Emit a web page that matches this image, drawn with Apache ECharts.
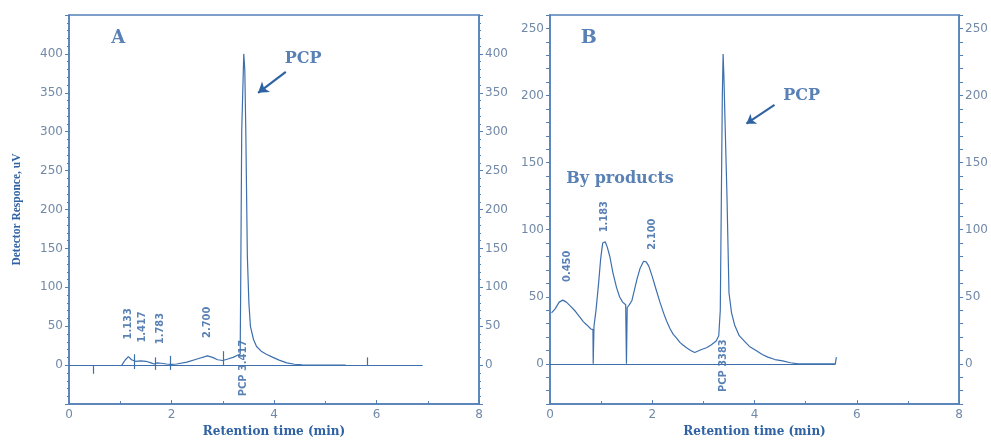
<!DOCTYPE html>
<html style="height: 100%">
    <head>
        <meta charset="utf-8">
    </head>
    <body style="height: 100%; margin: 0; background: #fff">
        <div id="container" style="width: 991px; height: 443px"></div>

        <script type="text/javascript" src="https://cdn.jsdelivr.net/npm/echarts@6/dist/echarts.min.js"></script>
        <script type="text/javascript">
// ---- chromatogram A (PCP standard) ----
var timeA = [1.03, 1.1, 1.16, 1.22, 1.3, 1.4, 1.5, 1.6, 1.66, 1.72, 1.8, 1.9, 2.0, 2.1, 2.3, 2.5, 2.7, 2.8, 2.9, 3.0,
    3.1, 3.2, 3.3, 3.34, 3.35, 3.37, 3.41, 3.43, 3.45, 3.48, 3.51, 3.54, 3.6, 3.66, 3.75, 3.85, 3.98, 4.1, 4.25, 4.4,
    4.55, 4.8, 5.4];
var respA = [0, 7, 11, 7, 5, 5.5, 5, 3, 1.5, 3, 2.5, 1.5, 1, 1.5, 4, 8, 12, 10, 7, 6,
    8, 10, 13, 14, 100, 300, 400, 380, 300, 140, 80, 50, 33, 24, 18, 14, 10, 6.5, 3, 1.2,
    0.4, 0, 0];
var peakNamesA = ['1.133', '1.417', '1.783', '2.700', 'PCP 3.417'];
var peakTimeA = [1.15, 1.42, 1.78, 2.69, 3.40];
var peakBaseA = [33, 29, 27, 35, -40];
var eventTimeA = [0.47, 1.27, 1.68, 1.97, 3.0, 5.82];
var eventLowA = [-11, -5, -6, -6, 0, 0];
var eventHighA = [0, 14, 10, 12, 18, 10];

// ---- chromatogram B (after treatment) ----
var timeB = [0.03, 0.1, 0.18, 0.25, 0.32, 0.4, 0.5, 0.58, 0.65, 0.72, 0.8, 0.84, 0.845, 0.855, 0.86, 0.9, 0.95, 0.99,
    1.03, 1.08, 1.12, 1.17, 1.23, 1.3, 1.36, 1.42, 1.48, 1.495, 1.505, 1.51, 1.55, 1.6, 1.65, 1.7, 1.76, 1.83, 1.88,
    1.93, 2.0, 2.07, 2.15, 2.22, 2.28, 2.35, 2.41, 2.48, 2.54, 2.6, 2.67, 2.75, 2.83, 2.95, 3.06, 3.15, 3.25, 3.3,
    3.33, 3.35, 3.37, 3.385, 3.4, 3.43, 3.46, 3.5, 3.55, 3.61, 3.7, 3.8, 3.9, 4.03, 4.15, 4.26, 4.4, 4.55, 4.7, 4.85,
    5.58, 5.6];
var respB = [38, 41, 46, 47.5, 46, 43, 39, 35, 31.5, 29, 26, 25.5, 0, 0, 28, 40, 60, 78,
    90, 91, 87, 80, 68, 57, 50, 46, 44, 0, 0, 42, 44, 47, 55, 63, 71, 76.5, 76,
    73, 65, 56, 46, 38, 32, 26, 22, 19, 16, 14, 12, 10, 8.5, 10.5, 12, 14, 17, 21,
    40, 120, 200, 231, 215, 170, 126, 53, 38, 29, 21, 17, 13, 10, 7, 5, 3.2, 2.2, 0.8, 0,
    0, 5];
var peakNamesB = ['0.450', '1.183', '2.100', 'PCP 3383'];
var peakTimeB = [0.34, 1.05, 2.0, 3.38];
var peakBaseB = [61, 98, 85, -21];

var blue = '#3d6fad';
var textBlue = '#2f62a3';
var tickGray = '#7189a8';
var axisBlue = '#5480b8';

function zip(xs, ys) {
    return xs.map(function (x, i) { return [x, ys[i]]; });
}

function peakLabels(names, xs, ys, idx) {
    return {
        type: 'scatter', xAxisIndex: idx, yAxisIndex: idx * 2, symbolSize: 0, silent: true,
        data: names.map(function (n, i) { return { name: n, value: [xs[i], ys[i]] }; }),
        label: {
            show: true, position: [0, 0], rotate: 90, align: 'left', verticalAlign: 'middle',
            formatter: '{b}', color: textBlue, fontSize: 11, fontWeight: 'bold',
            fontFamily: "'Liberation Sans Narrow', 'DejaVu Sans Condensed', sans-serif"
        }
    };
}

function note(text, x, y, size, idx) {
    return {
        type: 'scatter', xAxisIndex: idx, yAxisIndex: idx * 2, symbolSize: 0, silent: true,
        data: [{ name: text, value: [x, y] }],
        label: {
            show: true, position: [0, 0], align: 'center', verticalAlign: 'middle',
            formatter: '{b}', color: textBlue, fontSize: size, fontWeight: 'bold',
            fontFamily: "'DejaVu Serif', serif"
        }
    };
}

function xAxisFor(idx) {
    return {
        gridIndex: idx, type: 'value', min: 0, max: 8, interval: 2,
        axisLine: { onZero: false, lineStyle: { color: axisBlue, width: 1.5 } },
        axisTick: { inside: true, length: 4, lineStyle: { color: axisBlue } },
        minorTick: { show: true, splitNumber: 2, length: 3, lineStyle: { color: axisBlue } },
        splitLine: { show: false },
        axisLabel: { color: tickGray, fontSize: 12, margin: 5, fontFamily: 'DejaVu Sans' },
        name: 'Retention time (min)', nameLocation: 'middle', nameGap: 18,
        nameTextStyle: { color: textBlue, fontSize: 12, fontWeight: 'bold', fontFamily: "'DejaVu Serif', serif" }
    };
}

function yAxisFor(idx, pos, min, max, interval, fmt, minor) {
    return {
        gridIndex: idx, type: 'value', position: pos, min: min, max: max, interval: interval,
        axisLine: { show: true, onZero: false, lineStyle: { color: axisBlue, width: 1.5 } },
        axisTick: { show: true, length: 4, lineStyle: { color: axisBlue } },
        minorTick: { show: minor, splitNumber: 5, length: 2, lineStyle: { color: axisBlue } },
        splitLine: { show: false },
        axisLabel: { color: tickGray, fontSize: 12, margin: 6, fontFamily: 'DejaVu Sans', formatter: fmt }
    };
}

var fmtA = function (v) { return (v < 0 || v > 400) ? '' : v; };
var fmtB = function (v) { return (v % 50 === 0 && v >= 0 && v <= 250) ? v : ''; };

var eventLines = eventTimeA.map(function (t, i) {
    return [{ coord: [t, eventLowA[i]] }, { coord: [t, eventHighA[i]] }];
});

var dom = document.getElementById('container');
var myChart = echarts.init(dom);

var option = {
    animation: false,
    grid: [
        { left: 69, right: 512, top: 15, bottom: 30, show: true, borderColor: axisBlue, borderWidth: 1.5 },
        { left: 550, right: 31, top: 15, bottom: 28, show: true, borderColor: axisBlue, borderWidth: 1.5 }
    ],
    xAxis: [xAxisFor(0), xAxisFor(1)],
    yAxis: [
        Object.assign(yAxisFor(0, 'left', -50, 450, 50, fmtA, true), {
            name: 'Detector Responce, uV', nameLocation: 'middle', nameGap: 46,
            nameTextStyle: { color: textBlue, fontSize: 11.5, fontWeight: 'bold', fontFamily: "'Liberation Serif', serif" }
        }),
        yAxisFor(0, 'right', -50, 450, 50, fmtA, true),
        yAxisFor(1, 'left', -30, 260, 10, fmtB, false),
        yAxisFor(1, 'right', -30, 260, 10, fmtB, false)
    ],
    series: [
        {
            type: 'line', xAxisIndex: 0, yAxisIndex: 0, showSymbol: false, silent: true,
            data: zip(timeA, respA),
            lineStyle: { color: blue, width: 1.2 },
            markLine: {
                silent: true, symbol: 'none', label: { show: false },
                lineStyle: { color: blue, width: 1.2, type: 'solid' },
                data: [[{ coord: [0, 0] }, { coord: [6.9, 0] }]].concat(eventLines)
            }
        },
        {
            type: 'line', xAxisIndex: 0, yAxisIndex: 0, showSymbol: false, silent: true, data: [],
            markLine: {
                silent: true, symbol: ['none', 'arrow'], symbolSize: 10, label: { show: false },
                lineStyle: { color: textBlue, width: 2.2, type: 'solid' },
                data: [[{ coord: [4.23, 377] }, { coord: [3.69, 350] }]]
            }
        },
        {
            type: 'line', xAxisIndex: 1, yAxisIndex: 2, showSymbol: false, silent: true,
            data: zip(timeB, respB),
            lineStyle: { color: blue, width: 1.2 },
            markLine: {
                silent: true, symbol: 'none', label: { show: false },
                lineStyle: { color: blue, width: 1.2, type: 'solid' },
                data: [[{ coord: [0, 0] }, { coord: [5.58, 0] }]]
            }
        },
        {
            type: 'line', xAxisIndex: 1, yAxisIndex: 2, showSymbol: false, silent: true, data: [],
            markLine: {
                silent: true, symbol: ['none', 'arrow'], symbolSize: 9, label: { show: false },
                lineStyle: { color: textBlue, width: 2, type: 'solid' },
                data: [[{ coord: [4.39, 193] }, { coord: [3.84, 179] }]]
            }
        },
        peakLabels(peakNamesA, peakTimeA, peakBaseA, 0),
        peakLabels(peakNamesB, peakTimeB, peakBaseB, 1),
        note('A', 0.96, 420, 18, 0),
        note('PCP', 4.57, 394, 16, 0),
        note('B', 0.76, 243, 19, 1),
        note('PCP', 4.92, 200, 16, 1),
        note('By products', 1.37, 138, 16, 1)
    ]
};

myChart.setOption(option);
        </script>
    </body>
</html>
